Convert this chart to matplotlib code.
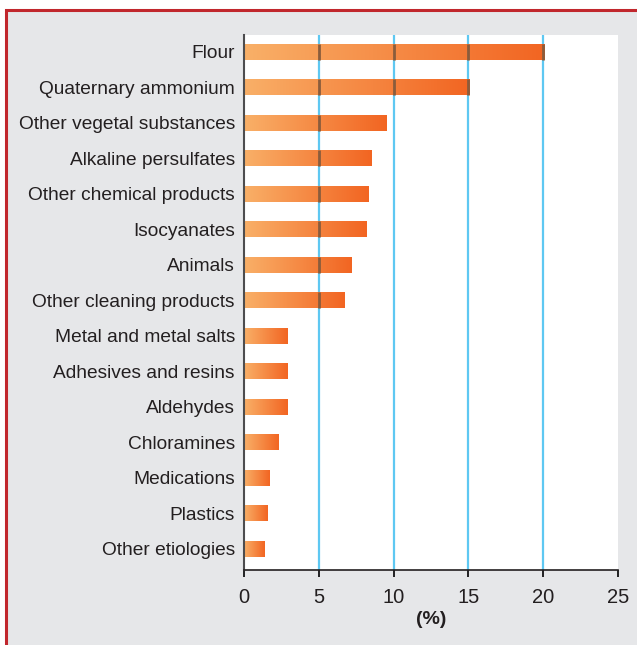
import numpy as np
import matplotlib.pyplot as plt
from matplotlib.colors import LinearSegmentedColormap
from matplotlib.patches import Rectangle

plt.rcParams['font.family'] = ['Liberation Sans Narrow', 'Liberation Sans', 'DejaVu Sans']

categories = ['Flour', 'Quaternary ammonium', 'Other vegetal substances',
              'Alkaline persulfates', 'Other chemical products', 'Isocyanates',
              'Animals', 'Other cleaning products', 'Metal and metal salts',
              'Adhesives and resins', 'Aldehydes', 'Chloramines',
              'Medications', 'Plastics', 'Other etiologies']
values = [20.1, 15.1, 9.5, 8.5, 8.3, 8.2, 7.2, 6.7, 2.9, 2.9, 2.9, 2.3, 1.7, 1.6, 1.4]
xticks = [0, 5, 10, 15, 20, 25]

fig = plt.figure(figsize=(6.37, 6.45), dpi=100)
fig.patch.set_facecolor('white')

# grey panel with red frame
fig.patches.append(Rectangle((0.009, -0.1), 1.1, 1.085, transform=fig.transFigure,
                             facecolor='#e6e7e9', edgecolor='#c1272d', linewidth=2.2,
                             zorder=-5))

ax = fig.add_axes([0.383, 0.116, 0.587, 0.830])
ax.set_facecolor('white')

cmap = LinearSegmentedColormap.from_list('bar', ['#f9b068', '#f26522'])
grad = np.linspace(0, 1, 256).reshape(1, -1)
h = 0.45
for i, v in enumerate(values):
    ax.imshow(grad, cmap=cmap, extent=[0, v, i + h / 2, i - h / 2],
              aspect='auto', zorder=2, interpolation='bicubic')

for g in xticks[1:-1]:
    ax.axvline(g, color='#5ec8f2', linewidth=1.6, zorder=1)
    for i, v in enumerate(values):
        if v > g:
            ax.vlines(g, i - h / 2, i + h / 2, color='#8a5c3c', linewidth=2, zorder=3)

ax.set_xlim(0, 25)
ax.set_ylim(14.6, -0.48)
ax.set_xticks(xticks)
ax.set_yticks(range(len(categories)))
ax.set_yticklabels(categories, fontsize=13.8, color='#231f20')
ax.tick_params(axis='y', length=0, pad=6.5)
ax.tick_params(axis='x', length=5, width=1.2, labelsize=14.5, labelcolor='#231f20', pad=8)
ax.set_xlabel('(%)', fontsize=14, fontweight='bold', labelpad=3, color='#231f20')

for s in ['top', 'right']:
    ax.spines[s].set_visible(False)
ax.spines['left'].set_color('#4d4d4f')
ax.spines['left'].set_linewidth(1.5)
ax.spines['bottom'].set_color('#231f20')
ax.spines['bottom'].set_linewidth(1.2)

fig.savefig('out.png', dpi=100)
